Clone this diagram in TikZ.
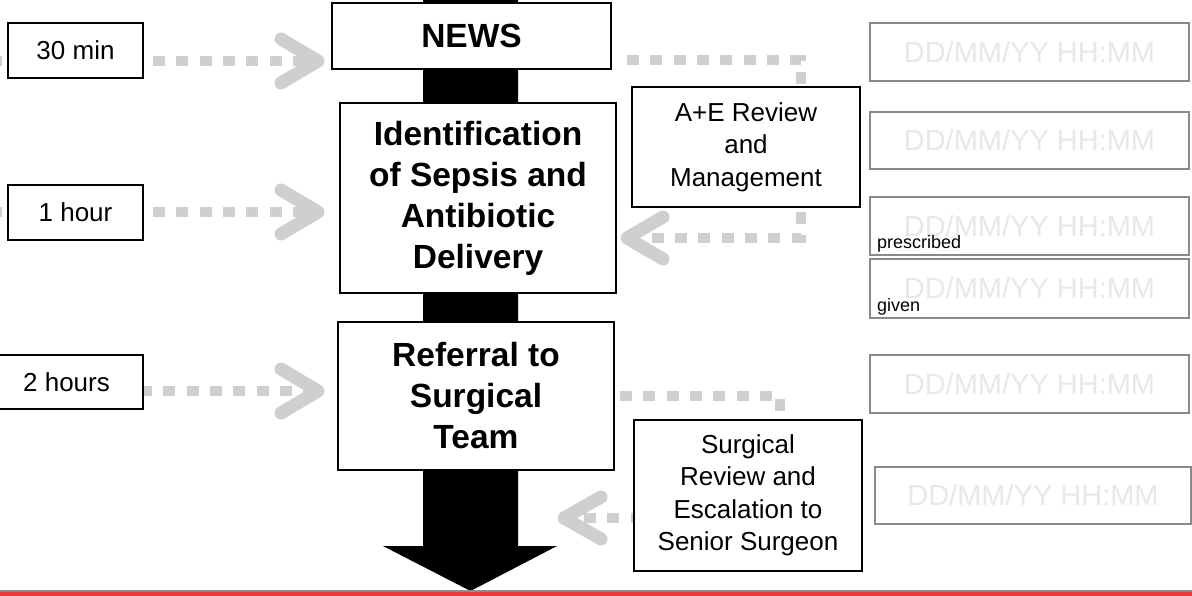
\documentclass[tikz,border=0pt]{standalone}
\usepackage{fontspec}
\setmainfont{Liberation Sans}
\definecolor{linegray}{RGB}{207,207,207}
\definecolor{dategray}{RGB}{138,138,138}
\definecolor{datetext}{RGB}{232,232,232}
\definecolor{bargray}{RGB}{140,140,140}
\definecolor{barred}{RGB}{238,58,58}
\begin{document}
\begin{tikzpicture}[x=1pt,y=-1pt,
  box/.style={draw=black,line width=1.6pt,fill=white,inner sep=0pt,align=center,text=black},
  stagebox/.style={box,font=\bfseries\fontsize{33.5}{41}\selectfont},
  reviewbox/.style={box,font=\fontsize{26}{32.5}\selectfont},
  timebox/.style={box,font=\fontsize{26}{30}\selectfont},
  datebox/.style={draw=dategray,line width=2pt,fill=white,inner sep=0pt,text=datetext,
    font=\fontsize{29}{32}\selectfont},
  smalllabel/.style={inner sep=0pt,anchor=base west,text=black,font=\fontsize{18}{20}\selectfont},
  dashline/.style={draw=linegray,line width=10pt,dash pattern=on 12pt off 11.3pt},
  chev/.style={draw=linegray,line width=13pt,line cap=round,line join=round},
]
\useasboundingbox (0,0) rectangle (1192,596);

% main flow arrow behind the stage boxes
\fill[black] (423,0) -- (518,0) -- (518,546) -- (557,546) -- (470.5,591)
  -- (383,546) -- (423,546) -- cycle;

% anchor points of the grey dotted connectors
\coordinate (s30) at (-10,61);   \coordinate (e30) at (318,61);
\coordinate (s1h) at (-10,212);  \coordinate (e1h) at (318,212);
\coordinate (s2h) at (140,391);  \coordinate (e2h) at (318,391);
\coordinate (aeA) at (627,60);   \coordinate (aeB) at (801,60);
\coordinate (aeC) at (801,238);  \coordinate (aeD) at (627,238);
\coordinate (srA) at (620,396);  \coordinate (srB) at (780,396);
\coordinate (srC) at (780,518);  \coordinate (srD) at (564,518);

% dotted connectors
\draw[dashline] (s30) -- (e30);
\draw[dashline] (s1h) -- (e1h);
\draw[dashline] (s2h) -- (e2h);
\draw[dashline] (aeA) -- (aeB) -- (aeC) -- (aeD);
\draw[dashline] (srA) -- (srB) -- (srC) -- (srD);

% chevron heads
\draw[chev] (e30) ++(-37,-22) -- (e30) -- ++(-37,22);
\draw[chev] (e1h) ++(-37,-22) -- (e1h) -- ++(-37,22);
\draw[chev] (e2h) ++(-37,-22) -- (e2h) -- ++(-37,22);
\draw[chev] (aeD) ++(36,-21) -- (aeD) -- ++(36,21);
\draw[chev] (srD) ++(37,-21) -- (srD) -- ++(37,21);

% time targets
\node[timebox,minimum width=135pt,minimum height=55pt] (t30) at (75.5,50.5) {30 min};
\node[timebox,minimum width=135pt,minimum height=55pt] (t1h) at (75.5,212.5) {1 hour};
\node[timebox,minimum width=153pt,minimum height=54pt] (t2h) at (66.5,382) {2 hours};

% pathway stages
\node[stagebox,minimum width=279pt,minimum height=66pt] (news) at (471.5,36) {NEWS};
\node[stagebox,minimum width=276pt,minimum height=190pt] (ident) at (478,198)
  {Identification\\of Sepsis and\\Antibiotic\\Delivery};
\node[stagebox,minimum width=276pt,minimum height=148pt] (refer) at (476,396)
  {Referral to\\Surgical\\Team};

% review steps
\node[reviewbox,minimum width=228pt,minimum height=120pt] (ae) at (746,147)
  {A+E Review\\and\\Management};
\node[reviewbox,minimum width=228pt,minimum height=151pt] (surg) at (748,495.5)
  {Surgical\\Review and\\Escalation to\\Senior Surgeon};

% date/time fields
\node[datebox,minimum width=319pt,minimum height=58pt] (d1) at (1029.5,52) {DD/MM/YY HH:MM};
\node[datebox,minimum width=319pt,minimum height=57pt] (d2) at (1029.5,140.5) {DD/MM/YY HH:MM};
\node[datebox,minimum width=319pt,minimum height=58pt] (d3) at (1029.5,226) {DD/MM/YY HH:MM};
\node[datebox,minimum width=319pt,minimum height=59pt] (d4) at (1029.5,288.5) {DD/MM/YY HH:MM};
\node[datebox,minimum width=319pt,minimum height=58pt] (d5) at (1029.5,384) {DD/MM/YY HH:MM};
\node[datebox,minimum width=316pt,minimum height=57pt] (d6) at (1033,495.5) {DD/MM/YY HH:MM};
\node[smalllabel] (presc) at (877,249) {prescribed};
\node[smalllabel] (given) at (877,311) {given};

% footer rule
\fill[bargray] (0,589.5) rectangle (1192,592);
\fill[barred] (0,592) rectangle (1192,596);
\end{tikzpicture}
\end{document}
